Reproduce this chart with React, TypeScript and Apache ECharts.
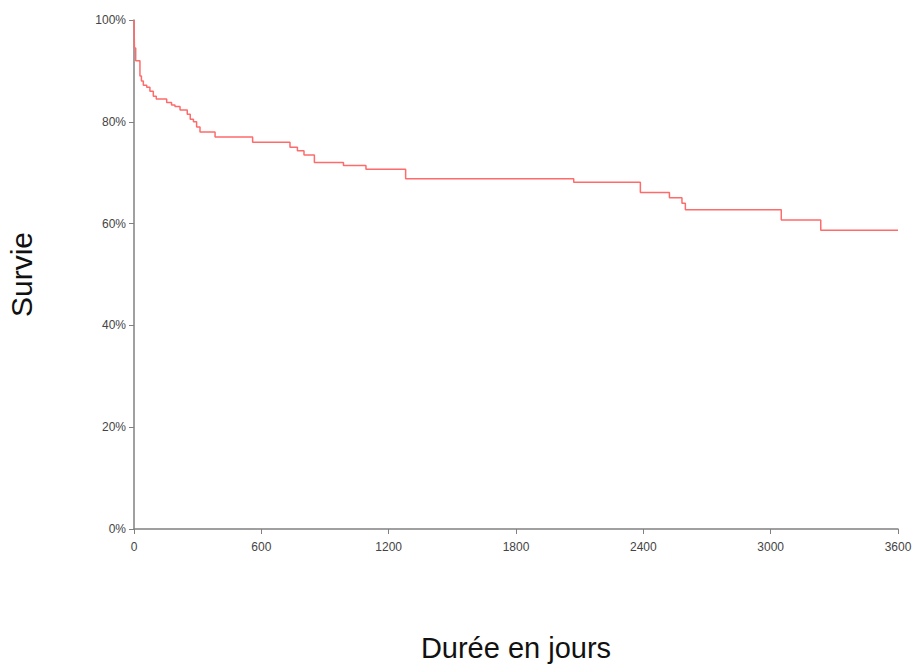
import React, { useEffect, useRef } from "react";
import * as echarts from "echarts";

const days: number[] = [0, 2, 8, 28, 35, 44, 60, 75, 91, 105, 154, 177, 193, 217, 251, 265, 280, 295, 311, 382, 559, 735, 770, 801, 850, 987, 1093, 1280, 2072, 2386, 2523, 2582, 2598, 3050, 3236, 3600];
const survival: number[] = [100, 94.5, 92, 89, 88, 87.2, 86.8, 86, 85, 84.5, 83.8, 83.3, 83, 82.3, 81.5, 80.5, 80, 79, 78, 77, 76, 75, 74.3, 73.5, 72, 71.4, 70.7, 68.8, 68.1, 66.1, 65.1, 64, 62.7, 60.7, 58.7, 58.7];
const xTicks: number[] = [0, 600, 1200, 1800, 2400, 3000, 3600];
const yTicks: number[] = [0, 20, 40, 60, 80, 100];

export default function App() {
  const ref = useRef<HTMLDivElement>(null);
  useEffect(() => {
    if (!ref.current) return;
    const chart = echarts.init(ref.current, null, { renderer: "svg" });
    const font = "'Liberation Sans', Arial, Helvetica, sans-serif";
    chart.setOption({
      animation: false,
      backgroundColor: "#ffffff",
      grid: { left: 134, right: 24, top: 20, bottom: 136, containLabel: false, outerBoundsMode: "none" },
      xAxis: {
        type: "value",
        min: xTicks[0],
        max: xTicks[xTicks.length - 1],
        interval: 600,
        name: "Durée en jours",
        nameLocation: "middle",
        nameGap: 104,
        nameTextStyle: { fontSize: 29, color: "#111", fontFamily: font },
        axisLine: { lineStyle: { color: "#808080", width: 1.5 } },
        axisTick: { show: true, length: 5, lineStyle: { color: "#808080" } },
        axisLabel: { fontSize: 12, color: "#444", fontFamily: font, margin: 12, formatter: (v: number) => String(v) },
        splitLine: { show: false },
      },
      yAxis: {
        type: "value",
        min: yTicks[0],
        max: yTicks[yTicks.length - 1],
        interval: 20,
        name: "Survie",
        nameLocation: "middle",
        nameGap: 98,
        nameRotate: 90,
        nameTextStyle: { fontSize: 30, color: "#111", fontFamily: font },
        axisLine: { show: true, lineStyle: { color: "#808080", width: 1.5 } },
        axisTick: { show: true, length: 5, lineStyle: { color: "#808080" } },
        axisLabel: { fontSize: 12, color: "#444", fontFamily: font, margin: 8, formatter: "{value}%" },
        splitLine: { show: false },
      },
      series: [
        {
          type: "line",
          step: "end",
          showSymbol: false,
          symbol: "none",
          data: days.map((d, i) => [d, survival[i]]),
          lineStyle: { color: "#ff6b6b", width: 1.5 },
        },
      ],
    });
    return () => chart.dispose();
  }, []);
  return <div ref={ref} style={{ position: "absolute", left: 0, top: 0, width: 922, height: 665 }} />;
}
